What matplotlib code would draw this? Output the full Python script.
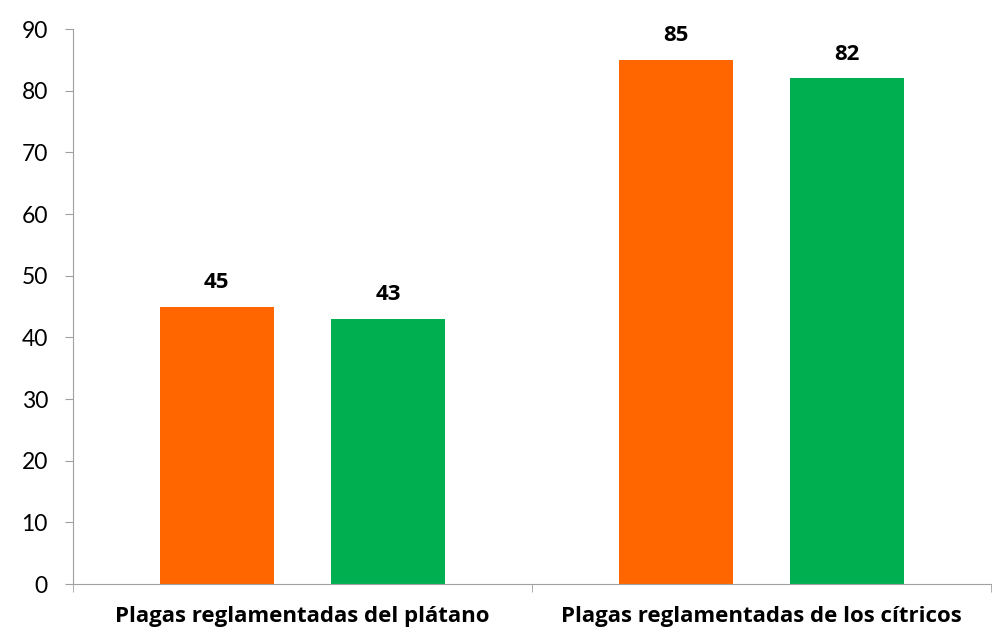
import matplotlib.pyplot as plt
import numpy as np

categories = ['Plagas reglamentadas del plátano', 'Plagas reglamentadas de los cítricos']
serie_1 = [45, 85]
serie_2 = [43, 82]
yticks = [0, 10, 20, 30, 40, 50, 60, 70, 80, 90]

plt.rcParams['font.family'] = ['Lato', 'DejaVu Sans']
bold_font = ['Open Sans', 'DejaVu Sans']

fig = plt.figure(figsize=(10.05, 6.33), dpi=100)
ax = fig.add_axes([0.0726, 0.0774, 0.9134, 0.8766])

x = np.arange(len(categories))
w = 0.248
off = 0.187
b1 = ax.bar(x - off, serie_1, w, color='#FF6600')
b2 = ax.bar(x + off, serie_2, w, color='#00B050')

for bars in (b1, b2):
    for b in bars:
        ax.annotate(str(int(b.get_height())), (b.get_x() + b.get_width() / 2, b.get_height()),
                    xytext=(0, 10), textcoords='offset points', ha='center', va='bottom',
                    fontsize=16, fontweight='bold', family=bold_font)

ax.set_xlim(-0.5, 1.5)
ax.set_ylim(0, 90)
ax.set_yticks(yticks)
ax.tick_params(axis='y', labelsize=16.5, length=6, color='#a0a0a0', pad=12)

ax.set_xticks(x)
ax.set_xticklabels(categories, fontsize=16, fontweight='bold', family=bold_font)
ax.tick_params(axis='x', which='major', length=0, pad=16)
ax.set_xticks([-0.5, 0.5, 1.5], minor=True)
ax.tick_params(axis='x', which='minor', length=6, color='#a0a0a0')

for s in ['top', 'right']:
    ax.spines[s].set_visible(False)
for s in ['left', 'bottom']:
    ax.spines[s].set_color('#a0a0a0')

fig.savefig('out.png', dpi=100)
